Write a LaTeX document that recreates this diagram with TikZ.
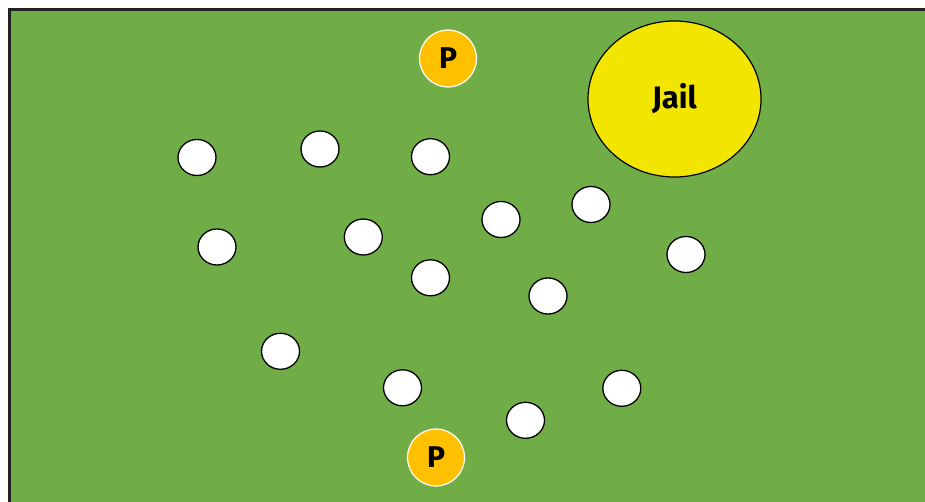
\documentclass[tikz,border=0pt]{standalone}
\usepackage{fontspec}
\setmainfont{Fira Sans}
\definecolor{field}{HTML}{70AD47}
\definecolor{jailyellow}{HTML}{F2E600}
\definecolor{pgold}{HTML}{FFC000}
\definecolor{edge}{HTML}{222222}
\usetikzlibrary{shapes.geometric}
\tikzset{
  ball/.style={ellipse, draw=black, line width=1.3pt, fill=white, minimum width=38pt, minimum height=36pt, inner sep=0pt},
  player/.style={circle, draw=white, line width=1.2pt, fill=pgold, minimum size=57pt, inner sep=0pt, font=\fontsize{30}{32}\selectfont\bfseries},
  jailzone/.style={ellipse, draw=black, line width=1.2pt, fill=jailyellow, minimum width=173pt, minimum height=156pt, inner sep=0pt, font=\fontsize{31}{33}\selectfont\bfseries}
}
\begin{document}
\begin{tikzpicture}[x=1pt,y=-1pt]
\useasboundingbox (0,0) rectangle (925,502);
\clip (0,0) rectangle (925,502);
\fill[white] (0,0) rectangle (925,502);
\draw[edge, line width=3pt, fill=field] (9.5,9.5) rectangle (940,520);
\node[jailzone] (jail) at (674.5,99) {\raisebox{-1.5pt}{Jail}};
\node[player] (ptop) at (448,58.5) {P};
\node[player] (pbot) at (436,457.5) {P};
\node[ball] (b1) at (197,157.5) {};
\node[ball] (b2) at (320,149) {};
\node[ball] (b3) at (430.5,156.7) {};
\node[ball] (b4) at (217,247) {};
\node[ball] (b5) at (363.3,237) {};
\node[ball] (b6) at (501,219.5) {};
\node[ball] (b7) at (591,204.5) {};
\node[ball] (b8) at (686,254.5) {};
\node[ball] (b9) at (430.5,277.8) {};
\node[ball] (b10) at (548,296) {};
\node[ball] (b11) at (280.5,351.3) {};
\node[ball] (b12) at (402.5,387.8) {};
\node[ball] (b13) at (621.8,388.3) {};
\node[ball] (b14) at (525.5,420.3) {};
\end{tikzpicture}
\end{document}
